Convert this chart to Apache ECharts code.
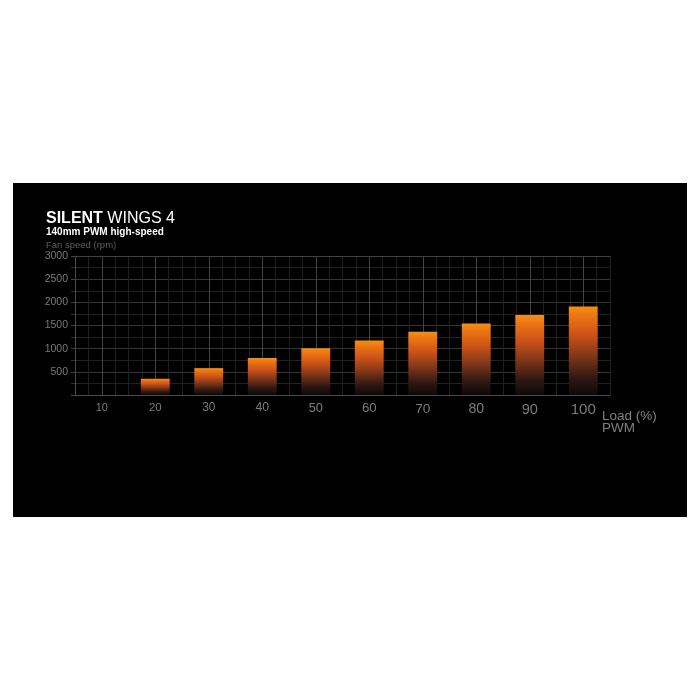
<!DOCTYPE html>
<html>
<head>
<meta charset="utf-8">
<script src="https://cdn.jsdelivr.net/npm/echarts@6/dist/echarts.min.js"></script>
<style>
  html, body { margin: 0; padding: 0; background: #fff; }
  #chart { width: 700px; height: 700px; }
</style>
</head>
<body>
<div id="chart"></div>
<script>
// PWM load steps and fan speed
const loadSteps = ['10', '20', '30', '40', '50', '60', '70', '80', '90', '100'];
const fanSpeed = [0, 350, 580, 800, 1010, 1175, 1365, 1545, 1725, 1910];
const speedTicks = [500, 1000, 1500, 2000, 2500, 3000];

const font = 'Liberation Sans';

// labels get a bit bigger to the right, like in the picture
const loadLabels = loadSteps.map(function (v, i) {
    return { value: v, textStyle: { fontSize: 11 + i * 0.45 } };
});

// quarter-step vertical grid, brighter line under every label
const vLineColors = ['#1f1f1f', '#1f1f1f', '#424242', '#1f1f1f'];

const chart = echarts.init(document.getElementById('chart'));

chart.setOption({
    backgroundColor: '#ffffff',
    animation: false,
    graphic: [{
        type: 'rect',
        z: -100,
        shape: { x: 13, y: 183, width: 674, height: 334 },
        style: { fill: '#000000' }
    }],
    title: [
        {
            text: '{b|SILENT} WINGS 4',
            left: 46, top: 211, padding: 0,
            textStyle: {
                color: '#ffffff', fontSize: 16, fontWeight: 'normal', fontFamily: font,
                rich: { b: { color: '#ffffff', fontSize: 16, fontWeight: 'bold', fontFamily: font } }
            }
        },
        {
            text: '140mm PWM high-speed',
            left: 46, top: 227, padding: 0,
            textStyle: { color: '#ffffff', fontSize: 10, fontWeight: 'bold', fontFamily: font }
        },
        {
            text: 'Fan speed (rpm)',
            left: 46, top: 240, padding: 0,
            textStyle: { color: '#5e5e5e', fontSize: 9.5, fontWeight: 'normal', fontFamily: font }
        }
    ],
    grid: { left: 75, right: 90, top: 256, bottom: 305 },
    xAxis: [
        {
            type: 'category',
            data: loadLabels,
            position: 'bottom',
            boundaryGap: true,
            axisLine: { lineStyle: { color: '#4a4a4a', width: 1 } },
            axisTick: { show: false },
            axisLabel: { color: '#7c7c7c', fontFamily: font, margin: 7 },
            splitLine: { show: false },
            name: 'Load (%)\nPWM',
            nameLocation: 'end',
            nameGap: -8,
            nameTextStyle: {
                color: '#808080', fontSize: 13.5, fontFamily: font,
                align: 'left', verticalAlign: 'top', lineHeight: 12,
                padding: [15, 0, 0, 0]
            }
        },
        {
            type: 'value',
            position: 'top',
            min: 0, max: 40, interval: 1,
            axisLine: { show: true, lineStyle: { color: '#424242' } },
            axisTick: { show: false },
            axisLabel: { show: false },
            splitLine: { show: true, lineStyle: { color: vLineColors, width: 1 } }
        }
    ],
    yAxis: {
        type: 'value',
        min: 0, max: speedTicks[speedTicks.length - 1], interval: speedTicks[0],
        axisLine: { show: true, lineStyle: { color: '#4a4a4a' } },
        axisTick: { show: true, length: 4, lineStyle: { color: '#444' } },
        minorTick: { show: true, splitNumber: 2, length: 4, lineStyle: { color: '#333' } },
        axisLabel: {
            color: '#7a7a7a', fontSize: 10.5, fontFamily: font, margin: 7,
            formatter: function (v) { return speedTicks.indexOf(v) >= 0 ? String(v) : ''; }
        },
        splitLine: { lineStyle: { color: '#363636', width: 1 } },
        minorSplitLine: { show: true, lineStyle: { color: '#222222', width: 1 } }
    },
    series: [{
        type: 'bar',
        xAxisIndex: 0,
        data: fanSpeed,
        barWidth: '54%',
        itemStyle: {
            color: new echarts.graphic.LinearGradient(0, 0, 0, 1, [
                { offset: 0, color: '#f68f12' },
                { offset: 0.1, color: '#ec7614' },
                { offset: 0.32, color: '#cc5218' },
                { offset: 0.58, color: '#7a3419' },
                { offset: 0.82, color: '#2c1712' },
                { offset: 1, color: '#0d0909' }
            ])
        }
    }]
});
</script>
</body>
</html>
